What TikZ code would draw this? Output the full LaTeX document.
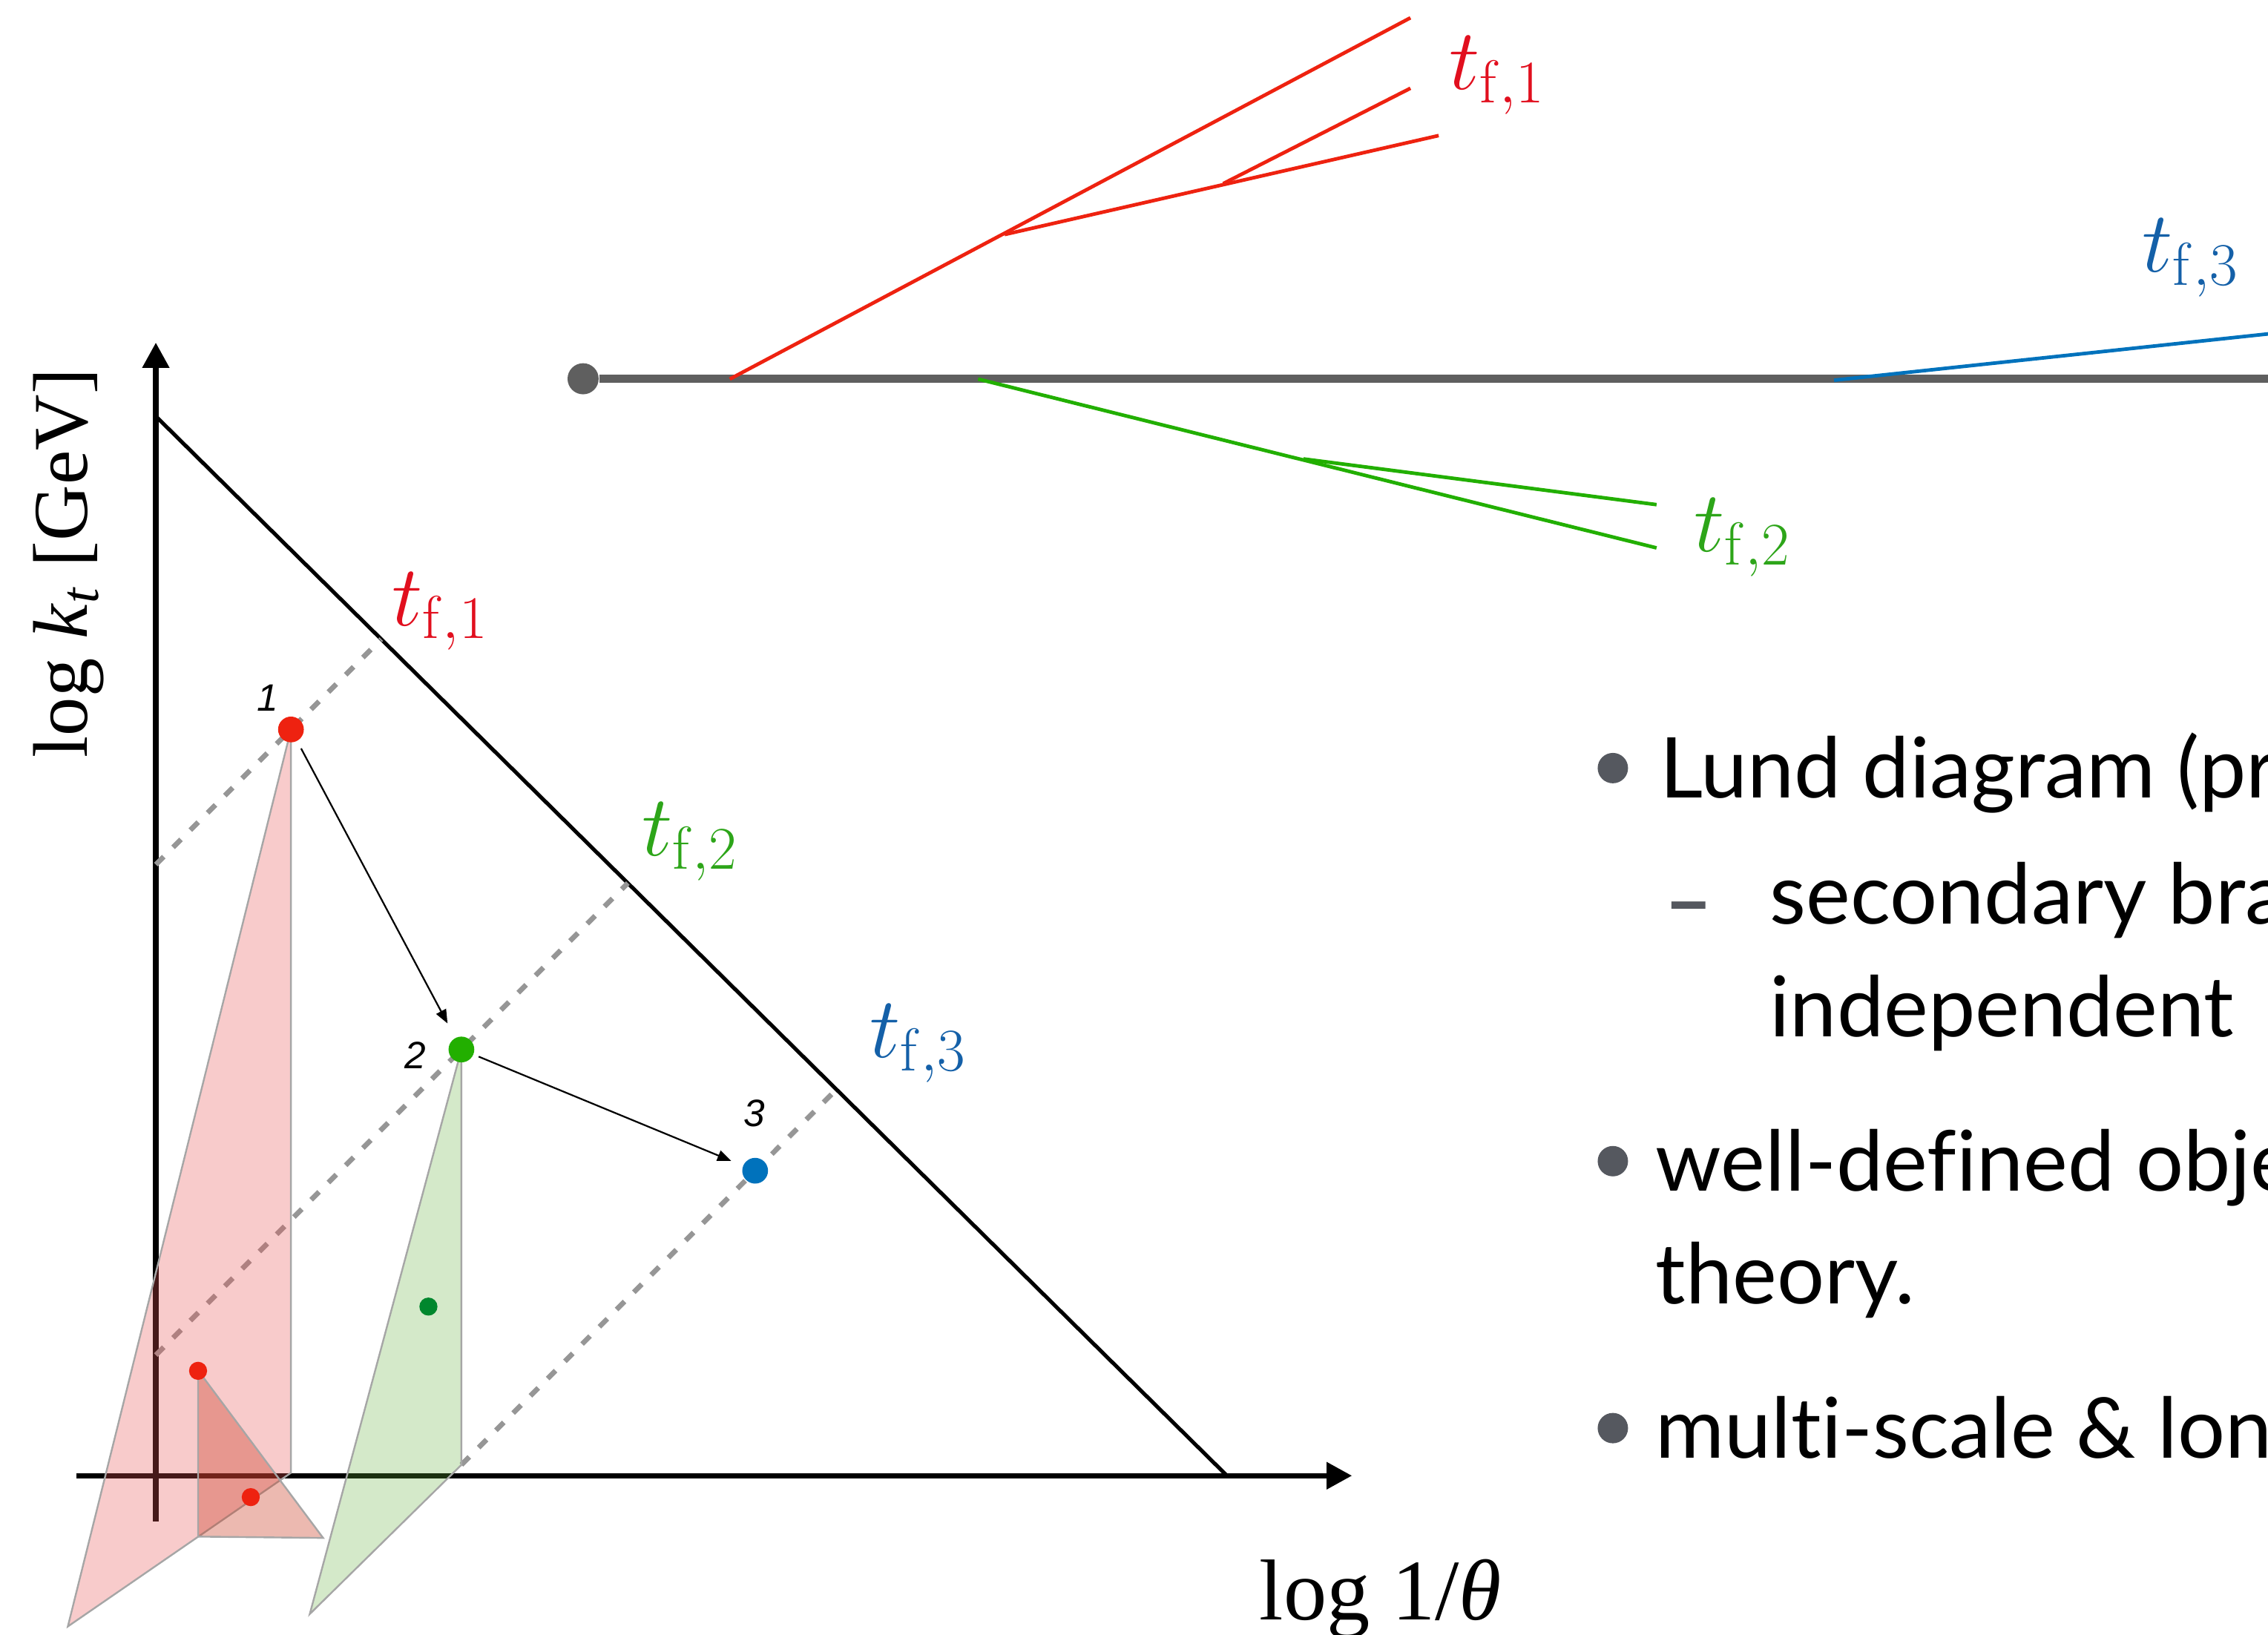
\RequirePackage{fix-cm}
\documentclass[tikz,border=0pt]{standalone}
\usepackage[no-math]{fontspec}
\usetikzlibrary{arrows.meta}
\newfontfamily\lundsans{Lato}[Ligatures=NoCommon]
\newfontfamily\axisserif{Liberation Serif}
\newfontfamily\idxsans{Liberation Sans}
\definecolor{lundred}{RGB}{238,34,16}
\definecolor{lblred}{RGB}{225,15,30}
\definecolor{lundgreen}{RGB}{34,175,0}
\definecolor{lblgreen}{RGB}{45,165,25}
\definecolor{lundblue}{RGB}{0,114,188}
\definecolor{lblblue}{RGB}{20,96,168}
\definecolor{darkgreen}{RGB}{0,135,45}
\definecolor{jetgray}{RGB}{95,95,95}
\definecolor{dashgray}{RGB}{150,150,150}
\definecolor{bulletgray}{RGB}{85,88,95}
\definecolor{planered}{RGB}{233,83,83}
\definecolor{subred}{RGB}{200,55,30}
\definecolor{planegreen}{RGB}{100,175,60}

\begin{document}
\begin{tikzpicture}[x=0.02cm,y=-0.02cm,
  axis/.style={line width=2.1pt,-{Triangle[length=3.5mm,width=3.6mm]}},
  primary/.style={circle,inner sep=0pt,outer sep=0pt,minimum size=3.56mm},
  secondary/.style={circle,inner sep=0pt,outer sep=0pt,minimum size=2.5mm},
  tline/.style={draw=dashgray,line width=2pt,dash pattern=on 4.4pt off 5.2pt},
  plane/.style={draw=black!35,line width=0.7pt},
  hop/.style={line width=0.65pt,-{Triangle[length=1.9mm,width=1.5mm]}},
  branch/.style={line width=1.4pt},
  idx/.style={inner sep=0pt,font=\idxsans\itshape\fontsize{15}{18}\selectfont},
  tlabel/.style={anchor=base west,inner sep=0pt,font=\fontsize{34}{40}\selectfont},
  bodytext/.style={anchor=base west,inner sep=0pt,font=\lundsans\fontsize{33}{40}\selectfont},
  bulletdot/.style={circle,fill=bulletgray,inner sep=0pt,minimum size=4.2mm}]
  \useasboundingbox (0,0) rectangle (1567.5,1130);
  \clip (0,0) rectangle (1567.5,1130);

  % Lund plane
  \coordinate (ybot) at (107.7,1051.5);
  \coordinate (ytop) at (107.7,236.8);
  \coordinate (xleft) at (52.7,1020);
  \coordinate (xright) at (934.4,1020);
  \coordinate (kmax) at (108,288);
  \coordinate (thmax) at (848,1020);
  \draw[axis] (ybot) -- (ytop);
  \draw[axis] (xleft) -- (xright);
  \draw[line width=1.5pt] (kmax) -- (thmax);
  \node[rotate=90,anchor=base west,inner sep=0pt,font=\axisserif\fontsize{30.5}{36}\selectfont] (ylab) at (60,524) {log \textit{k}\textsubscript{\textit{t}} [GeV]};
  \node[anchor=base west,inner sep=0pt,font=\axisserif\fontsize{34}{40}\selectfont] (xlab) at (870.3,1119.8) {log 1/\textit{θ}};

  \coordinate (e1) at (201.1,504.2);
  \coordinate (e2) at (318.9,725.4);
  \coordinate (e3) at (521.9,809.2);
  \coordinate (d1s) at (107.7,597.6);
  \coordinate (d1e) at (263.5,441.8);
  \coordinate (d2s) at (107.7,936.6);
  \coordinate (d2e) at (433.9,610.4);
  \coordinate (d3s) at (318.9,1012.5);
  \coordinate (d3e) at (578.1,753.0);
  \draw[tline] (d1s) -- (d1e);
  \draw[tline] (d2s) -- (d2e);
  \draw[tline] (d3s) -- (d3e);

  \filldraw[plane,fill=planered,fill opacity=0.3] (e1) -- (201.1,1018) -- (46.9,1124.2) -- cycle;
  \filldraw[plane,fill=subred,fill opacity=0.35] (136.9,947.2) -- (136.9,1062.1) -- (223.3,1063) -- cycle;
  \filldraw[plane,fill=planegreen,fill opacity=0.28] (e2) -- (d3s) -- (214.1,1115.6) -- cycle;

  \node[primary,fill=lundred] (n1) at (e1) {};
  \node[primary,fill=lundgreen] (n2) at (e2) {};
  \node[primary,fill=lundblue] (n3) at (e3) {};
  \node[secondary,fill=lundred] (s1) at (136.9,947.5) {};
  \node[secondary,fill=lundred] (s2) at (173.3,1034.8) {};
  \node[secondary,fill=darkgreen] (s3) at (296.1,903.1) {};
  \node[idx] (i1) at (185.2,482.2) {1};
  \node[idx] (i2) at (286.9,729.2) {2};
  \node[idx] (i3) at (521.4,769.4) {3};
  \draw[hop,shorten <=1.2mm,shorten >=2.3mm] (n1) -- (n2);
  \draw[hop,shorten <=0.8mm,shorten >=1.8mm] (n2) -- (n3);

  \node[tlabel,text=lblred] (tf1) at (270.6,432.3) {$t_{\mathrm{f},1}$};
  \node[tlabel,text=lblgreen] (tf2) at (443.3,591.7) {$t_{\mathrm{f},2}$};
  \node[tlabel,text=lblblue] (tf3) at (601,731) {$t_{\mathrm{f},3}$};

  % emission tree
  \coordinate (jetend) at (1600,261.8);
  \node[circle,fill=jetgray,inner sep=0pt,minimum size=4.3mm] (seed) at (403,261.8) {};
  \draw[line width=3.2pt,draw=jetgray] (seed) -- (jetend);
  \coordinate (r0) at (504.4,262);
  \coordinate (ra) at (694.3,162.1);
  \coordinate (rb) at (845.4,126.9);
  \coordinate (r1) at (974.8,12.3);
  \coordinate (r2) at (974.8,61);
  \coordinate (r3) at (994.3,93.7);
  \draw[branch,draw=lundred] (r0) -- (r1);
  \draw[branch,draw=lundred] (ra) -- (r3);
  \draw[branch,draw=lundred] (rb) -- (r2);
  \coordinate (g0) at (676,262);
  \coordinate (ga) at (900.8,317.2);
  \coordinate (g1) at (1144.9,378.7);
  \coordinate (g2) at (1144.9,348.8);
  \draw[branch,draw=lundgreen] (g0) -- (g1);
  \draw[branch,draw=lundgreen] (ga) -- (g2);
  \coordinate (b0) at (1267.6,262.8);
  \coordinate (b1) at (1575,230);
  \draw[branch,draw=lundblue] (b0) -- (b1);
  \node[tlabel,text=lblred] (tt1) at (1001.1,61.9) {$t_{\mathrm{f},1}$};
  \node[tlabel,text=lblgreen] (tt2) at (1170.6,381.3) {$t_{\mathrm{f},2}$};
  \node[tlabel,text=lblblue] (tt3) at (1480.3,188.1) {$t_{\mathrm{f},3}$};

  % bullet text
  \node[bulletdot] (dotA) at (1114.7,530.9) {};
  \node[bodytext] (lund) at (1147,551.5) {Lund diagram (pr};
  \node[bodytext,text=bulletgray,font=\lundsans\bfseries\fontsize{33}{40}\selectfont] (dash) at (1150,643) {–};
  \node[bodytext] (second) at (1223,638.4) {secondary bra};
  \node[bodytext] (indep) at (1223,716.7) {independent};
  \node[bulletdot] (dotB) at (1114.7,802.6) {};
  \node[bodytext] (welldef) at (1144,823.2) {well-defined obje};
  \node[bodytext] (theory) at (1144,901.2) {theory.};
  \node[bulletdot] (dotC) at (1114.7,987.1) {};
  \node[bodytext] (multi) at (1144,1007.7) {multi-scale \& lon};
\end{tikzpicture}
\end{document}
